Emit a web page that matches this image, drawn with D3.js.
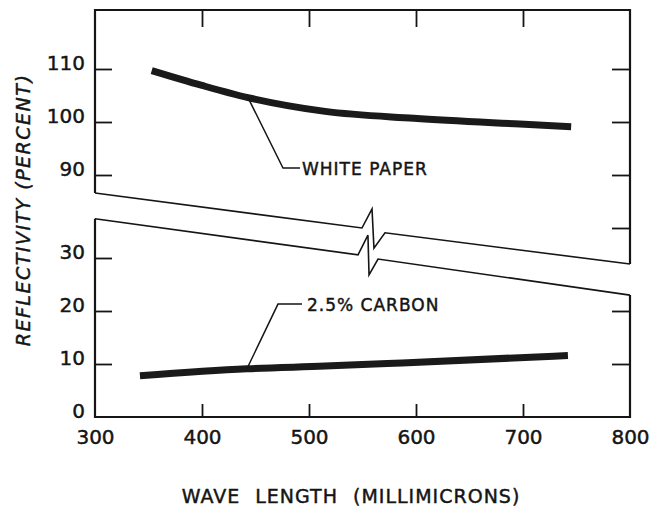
<!DOCTYPE html>
<html>
<head>
<meta charset="utf-8">
<script src="https://cdn.jsdelivr.net/npm/d3@7"></script>
<style>
body { margin: 0; background: #fff; }
svg text { font-family: "DejaVu Sans", sans-serif; fill: #151515; stroke: #151515; stroke-width: 0.45px; }
</style>
</head>
<body>
<svg id="chart" width="650" height="508"></svg>
<script>
// wave length ticks (millimicrons)
var xTicks = [300, 400, 500, 600, 700, 800];
var upperTicksLeft = [90, 100, 110];
var upperTicksRight = [80, 90, 100, 110];
var lowerTicksLeft = [0, 10, 20, 30];
var lowerTicksRight = [10, 20];

// white paper curve (upper panel)
var whiteWl = [353, 400, 443, 515, 598, 697, 745];
var whiteVal = [109.7, 106.9, 104.6, 102.0, 100.7, 99.6, 99.1];

// 2.5% carbon curve (lower panel)
var carbonWl = [342, 442, 515, 587, 742];
var carbonVal = [7.8, 9.1, 9.6, 10.2, 11.6];

// axis break lines, in wave length / reflectivity units
var breakUpWl = [300, 549.5, 558.9, 560.7, 571, 800];
var breakUpVal = [86.6, 80.0, 83.6, 76.2, 79.1, 73.2];
var breakLowWl = [300, 545.8, 555.1, 556.1, 564.5, 800];
var breakLowVal = [37.4, 30.6, 34.3, 26.8, 29.8, 23.0];

// leader lines for the curve labels
var whiteLeadWl = [443, 475.7, 491.6];
var whiteLeadVal = [104.6, 91.3, 91.3];
var carbonLeadWl = [442, 471, 493.5];
var carbonLeadVal = [9.1, 21.3, 21.3];

var whiteLabel = "WHITE PAPER";
var carbonLabel = "2.5% CARBON";
var xTitle = "WAVE LENGTH (MILLIMICRONS)";
var yTitle = "REFLECTIVITY (PERCENT)";

var frameTop = 10;
var ink = "#151515";

var svg = d3.select("#chart");
svg.append("rect").attr("width", 650).attr("height", 508).attr("fill", "#fff");

var x = d3.scaleLinear().domain([300, 800]).range([95, 630]);
var yUp = d3.scaleLinear().domain([90, 110]).range([175, 69]);
var yLow = d3.scaleLinear().domain([0, 30]).range([417, 258]);

var zip = function (a, b) { return a.map(function (d, i) { return [d, b[i]]; }); };

var lineUp = d3.line().x(function (d) { return x(d[0]); }).y(function (d) { return yUp(d[1]); });
var lineLow = d3.line().x(function (d) { return x(d[0]); }).y(function (d) { return yLow(d[1]); });

// frame pieces
var upFrame = "M" + x(300) + "," + yUp(breakUpVal[0]) + "L" + x(300) + "," + frameTop +
  "L" + x(800) + "," + frameTop + "L" + x(800) + "," + yUp(breakUpVal[breakUpVal.length - 1]);
var lowFrame = "M" + x(300) + "," + yLow(breakLowVal[0]) + "L" + x(300) + "," + yLow(0) +
  "L" + x(800) + "," + yLow(0) + "L" + x(800) + "," + yLow(breakLowVal[breakLowVal.length - 1]);

svg.append("path").attr("d", upFrame).attr("fill", "none").attr("stroke", ink).attr("stroke-width", 2.2);
svg.append("path").attr("d", lowFrame).attr("fill", "none").attr("stroke", ink).attr("stroke-width", 2.2);

svg.append("path").attr("d", lineUp(zip(breakUpWl, breakUpVal)))
  .attr("fill", "none").attr("stroke", ink).attr("stroke-width", 1.6).attr("stroke-linejoin", "miter");
svg.append("path").attr("d", lineLow(zip(breakLowWl, breakLowVal)))
  .attr("fill", "none").attr("stroke", ink).attr("stroke-width", 1.6).attr("stroke-linejoin", "miter");

function styleAxis(g) {
  g.select(".domain").remove();
  g.selectAll(".tick line").attr("stroke", ink).attr("stroke-width", 1.8);
  g.selectAll(".tick text").attr("font-size", 20).attr("fill", ink);
}

// left axes
svg.append("g").attr("transform", "translate(" + x(300) + ",0)")
  .call(d3.axisLeft(yUp).tickValues(upperTicksLeft).tickSize(-17).tickPadding(10))
  .call(styleAxis)
  .selectAll(".tick text").attr("dy", "0");

var gLowLeft = svg.append("g").attr("transform", "translate(" + x(300) + ",0)")
  .call(d3.axisLeft(yLow).tickValues(lowerTicksLeft).tickSize(-17).tickPadding(10))
  .call(styleAxis);
gLowLeft.selectAll(".tick text").attr("dy", "0");
gLowLeft.selectAll(".tick line").filter(function (d) { return d === 0; }).remove();

// right axes
svg.append("g").attr("transform", "translate(" + x(800) + ",0)")
  .call(d3.axisRight(yUp).tickValues(upperTicksRight).tickSize(-18).tickFormat(""))
  .call(styleAxis);
svg.append("g").attr("transform", "translate(" + x(800) + ",0)")
  .call(d3.axisRight(yLow).tickValues(lowerTicksRight).tickSize(-18).tickFormat(""))
  .call(styleAxis);

// top and bottom axes
svg.append("g").attr("transform", "translate(0," + frameTop + ")")
  .call(d3.axisTop(x).tickValues(xTicks.slice(1, -1)).tickSize(-17).tickFormat(""))
  .call(styleAxis);

var gBottom = svg.append("g").attr("transform", "translate(0," + yLow(0) + ")")
  .call(d3.axisBottom(x).tickValues(xTicks).tickSize(-13).tickPadding(13))
  .call(styleAxis);
gBottom.selectAll(".tick line").filter(function (d) { return d === 300 || d === 800; }).remove();

// curves
var curveUp = d3.line().curve(d3.curveMonotoneX)
  .x(function (d) { return x(d[0]); }).y(function (d) { return yUp(d[1]); });
var curveLow = d3.line().curve(d3.curveMonotoneX)
  .x(function (d) { return x(d[0]); }).y(function (d) { return yLow(d[1]); });

svg.append("path").attr("d", curveUp(zip(whiteWl, whiteVal)))
  .attr("fill", "none").attr("stroke", "#1a1a1a").attr("stroke-width", 7).attr("stroke-linecap", "butt");
svg.append("path").attr("d", curveLow(zip(carbonWl, carbonVal)))
  .attr("fill", "none").attr("stroke", "#1a1a1a").attr("stroke-width", 7).attr("stroke-linecap", "butt");

// leaders and labels
svg.append("path").attr("d", lineUp(zip(whiteLeadWl, whiteLeadVal)))
  .attr("fill", "none").attr("stroke", ink).attr("stroke-width", 1.5);
svg.append("path").attr("d", lineLow(zip(carbonLeadWl, carbonLeadVal)))
  .attr("fill", "none").attr("stroke", ink).attr("stroke-width", 1.5);

svg.append("text")
  .attr("x", x(whiteLeadWl[2]) + 2).attr("y", yUp(whiteLeadVal[2]) + 7)
  .attr("font-size", 17).attr("letter-spacing", 1)
  .text(whiteLabel);
svg.append("text")
  .attr("x", x(carbonLeadWl[2]) + 5).attr("y", yLow(carbonLeadVal[2]) + 7)
  .attr("font-size", 17).attr("letter-spacing", 1)
  .text(carbonLabel);

// axis titles
svg.append("text")
  .attr("x", 351).attr("y", 503)
  .attr("text-anchor", "middle")
  .attr("font-size", 19).attr("letter-spacing", 1).attr("word-spacing", 8)
  .text(xTitle);

svg.append("text")
  .attr("transform", "translate(30,210) rotate(-90)")
  .attr("text-anchor", "middle")
  .attr("font-size", 19).attr("font-style", "italic").attr("letter-spacing", 1.5)
  .text(yTitle);
</script>
</body>
</html>
